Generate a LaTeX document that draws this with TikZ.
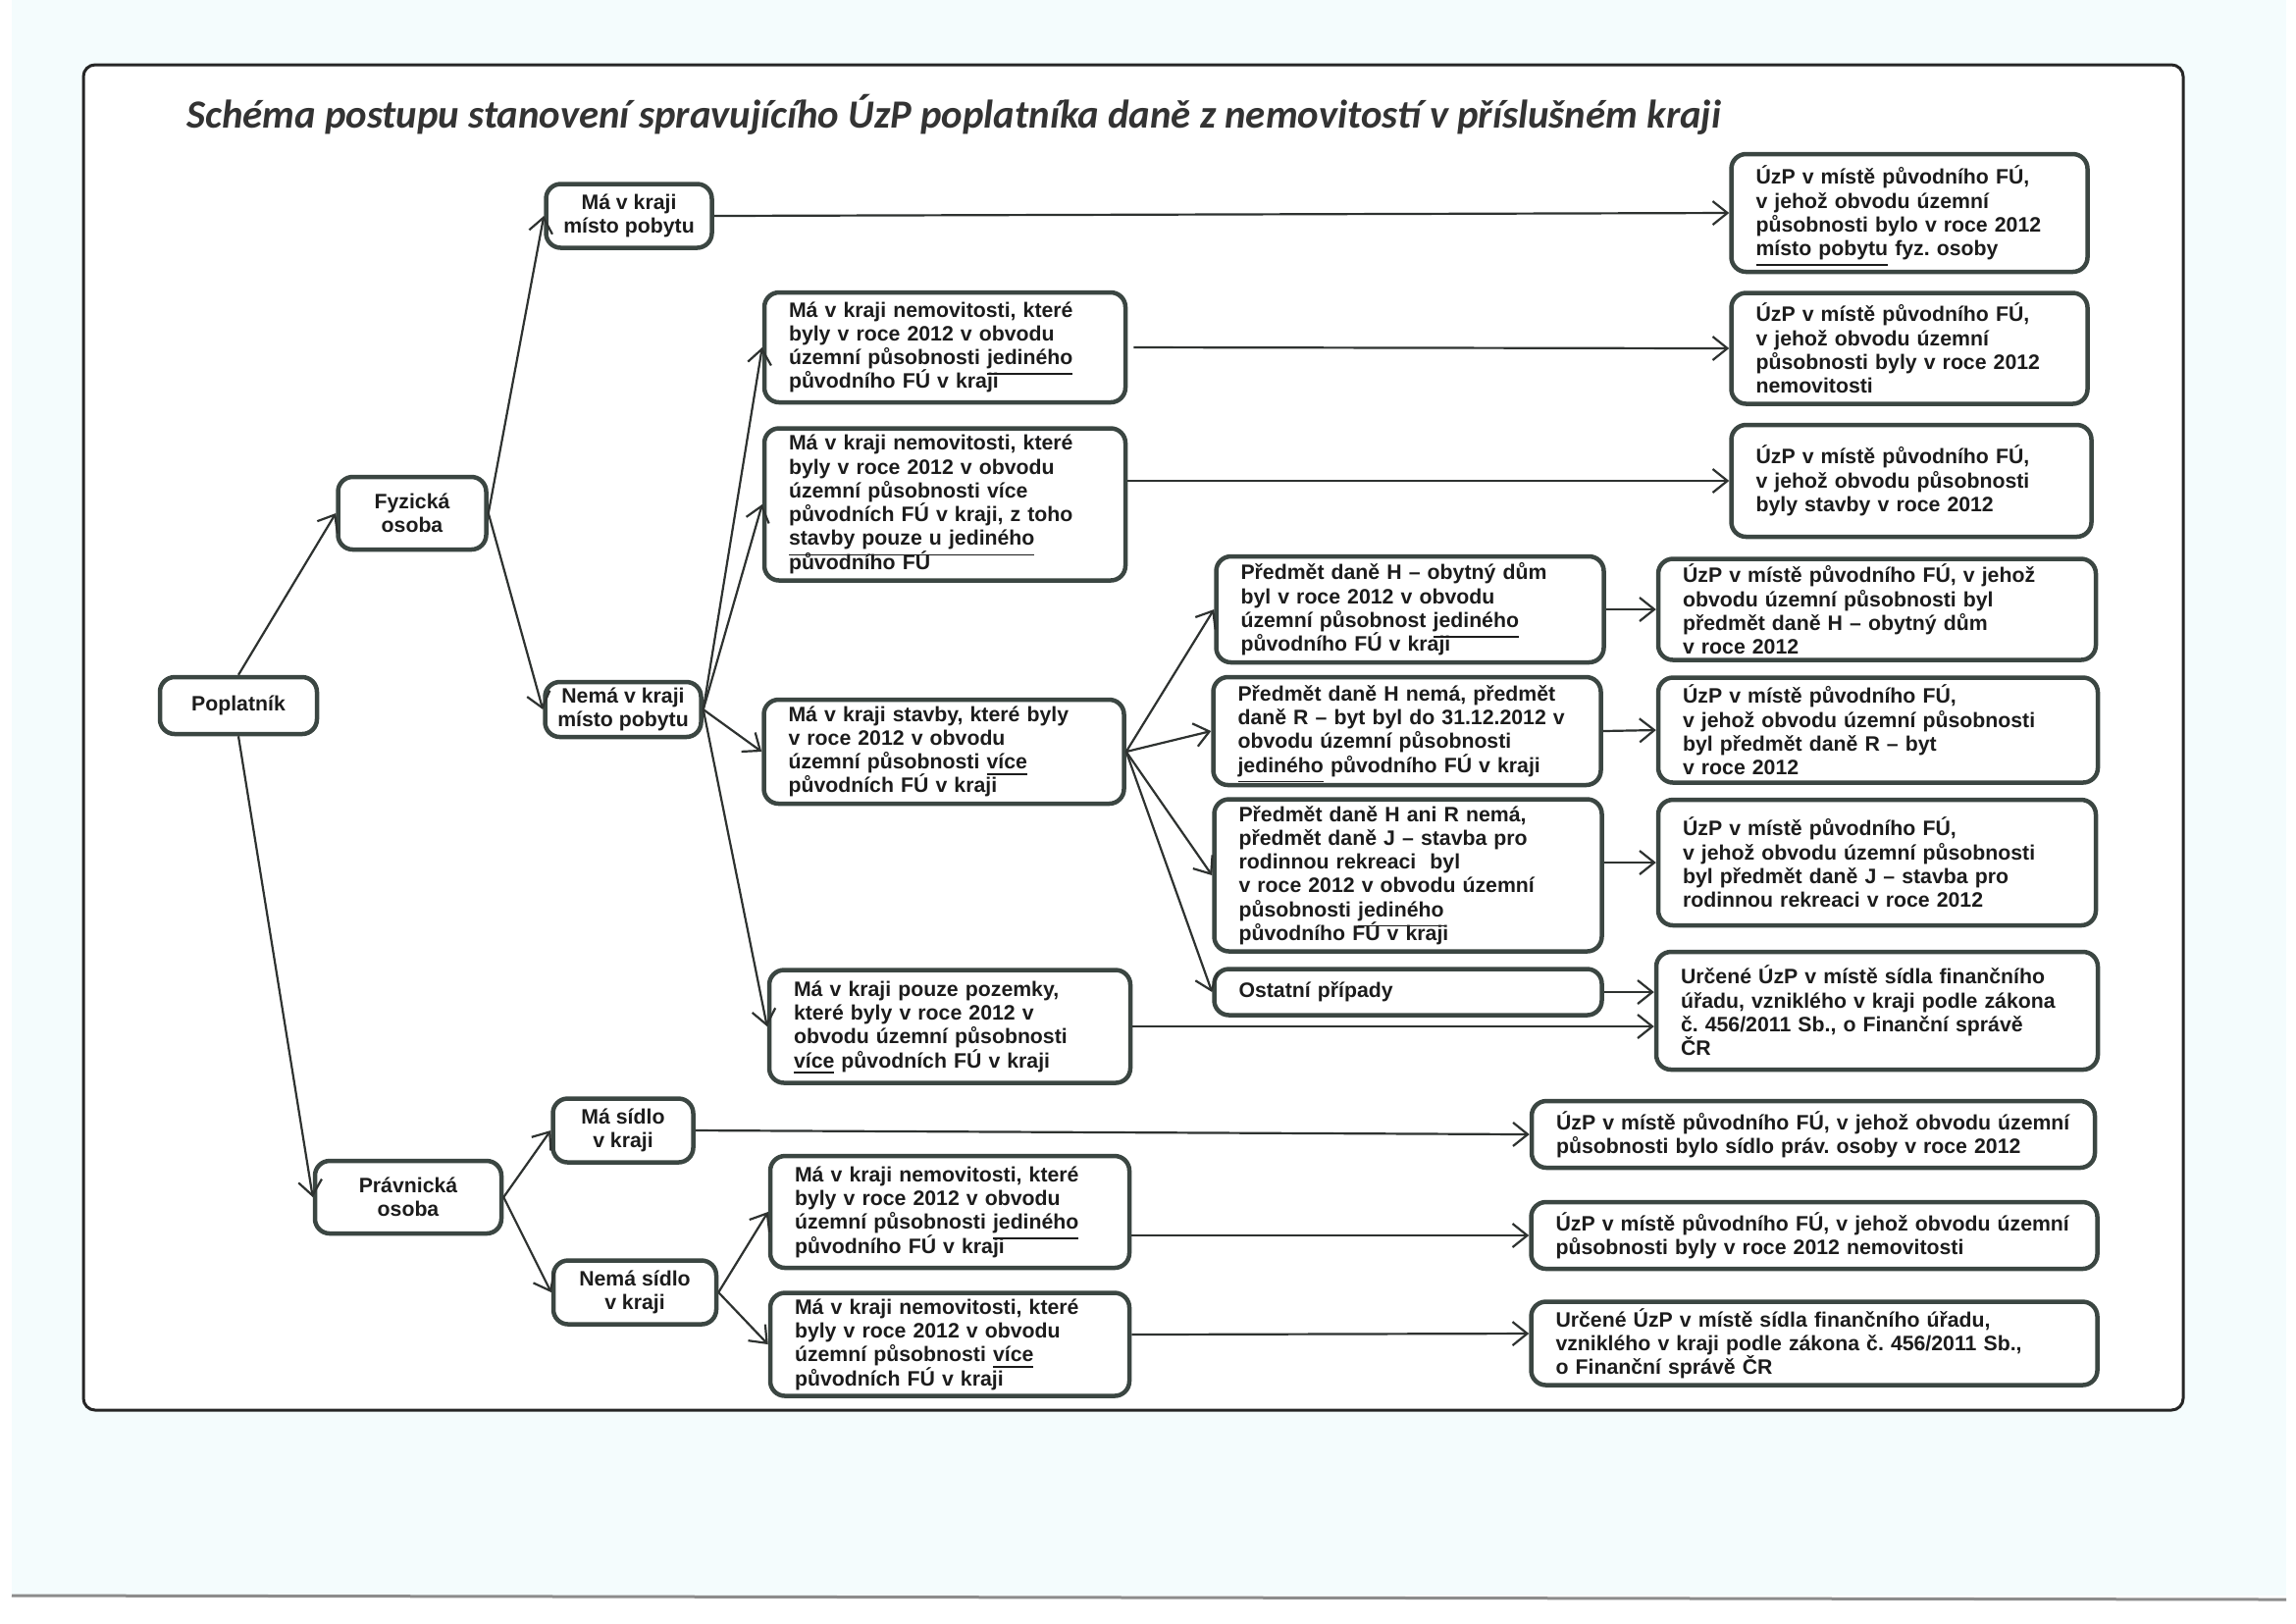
\documentclass[tikz,border=0pt]{standalone}
\usepackage{fontspec}
\setmainfont{Liberation Sans}
\newfontfamily\titlefont{Carlito}
\usetikzlibrary{arrows.meta}

\definecolor{boxline}{HTML}{3B4642}
\definecolor{lineclr}{HTML}{2E3230}
\definecolor{textclr}{HTML}{1C1C1C}
\definecolor{titleclr}{HTML}{333333}
\definecolor{pagebg}{HTML}{F4FCFD}

\frenchspacing
\newcommand{\boxfont}{\bfseries\fontsize{6.05}{6.9}\selectfont}
\newcommand{\ul}[1]{\smash{\underline{#1}}}

\begin{document}
\begin{tikzpicture}[x=0.1mm, y=-0.1mm,
    box/.style={draw=boxline, line width=0.45mm, rounded corners=1.5mm, fill=white, text=textclr, font=\boxfont},
    cbox/.style={box, align=center, inner sep=0pt},
    lbox/.style={box, align=left, inner xsep=2.5mm, inner ysep=0pt},
    conn/.style={draw=lineclr, line width=0.22mm, -{Straight Barb[length=1.5mm, width=2.4mm]}}]

    \useasboundingbox (0,0) rectangle (2340,1654);

    % Draw the page and the frame
    \fill[white] (0,0) rectangle (2340,1654);
    \fill[pagebg] (12,0) rectangle (2330,1626);
    \draw[black!45, line width=0.3mm] (12,1626) -- (2330,1630);
    \draw[black!85, line width=0.3mm, fill=white, rounded corners=1.2mm] (85,66) rectangle (2225,1437);

    % Draw the title
    \node[anchor=west, text=titleclr, font=\titlefont\bfseries\itshape\fontsize{11.6}{13}\selectfont] (title) at (178,117)
        {Schéma postupu stanovení spravujícího ÚzP poplatníka daně z nemovitostí v příslušném kraji};

    % Draw the taxpayer and the persons
    \node[cbox, minimum width=16mm, minimum height=5.8mm] (poplatnik) at (243,719) {Poplatník};
    \node[cbox, minimum width=15.1mm, minimum height=7.4mm] (fyzicka) at (420,523) {Fyzická\\osoba};
    \node[cbox, minimum width=19mm, minimum height=7.4mm] (pravnicka) at (416,1220) {Právnická\\osoba};

    % Draw the natural person branch
    \node[cbox, minimum width=16.9mm, minimum height=6.5mm] (mapobyt) at (641,220) {Má v kraji\\místo pobytu};
    \node[cbox, minimum width=15.9mm, minimum height=5.6mm] (nemapobyt) at (635,723) {Nemá v kraji\\místo pobytu};

    \node[lbox, text width=31.8mm, minimum height=11.2mm] (nemjed) at (963,354)
        {Má v kraji nemovitosti, které\\byly v roce 2012 v obvodu\\územní působnosti \ul{jediného}\\původního FÚ v kraji};
    \node[lbox, text width=31.8mm, minimum height=15.5mm] (nemvice) at (963,514)
        {Má v kraji nemovitosti, které\\byly v roce 2012 v obvodu\\územní působnosti více\\původních FÚ v kraji, z toho\\\ul{stavby pouze u jediného}\\původního FÚ};
    \node[lbox, text width=31.7mm, minimum height=10.6mm] (stavby) at (962,766)
        {Má v kraji stavby, které byly\\v roce 2012 v obvodu\\územní působnosti \ul{více}\\původních FÚ v kraji};
    \node[lbox, text width=31.8mm, minimum height=11.5mm] (pozemky) at (968,1046)
        {Má v kraji pouze pozemky,\\které byly v roce 2012 v\\obvodu územní působnosti\\\ul{více} původních FÚ v kraji};

    % Draw the tax subjects
    \node[lbox, text width=34.5mm, minimum height=10.8mm] (predH) at (1437,621)
        {Předmět daně H – obytný dům\\byl v roce 2012 v obvodu\\územní působnost \ul{jediného}\\původního FÚ v kraji};
    \node[lbox, text width=34.5mm, minimum height=11mm] (predR) at (1434,745)
        {Předmět daně H nemá, předmět\\daně R – byt byl do 31.12.2012 v\\obvodu územní působnosti\\\ul{jediného} původního FÚ v kraji};
    \node[lbox, text width=34.5mm, minimum height=15.5mm] (predJ) at (1435,892)
        {Předmět daně H ani R nemá,\\předmět daně J – stavba pro\\rodinnou rekreaci~ byl\\v roce 2012 v obvodu územní\\působnosti \ul{jediného}\\původního FÚ v kraji};
    \node[lbox, text width=34.5mm, minimum height=4.7mm] (ostatni) at (1435,1011) {Ostatní případy};

    % Draw the results
    \node[lbox, text width=31.3mm, minimum height=12mm] (uzpPobyt) at (1946,217)
        {ÚzP v místě původního FÚ,\\v jehož obvodu územní\\působnosti bylo v roce 2012\\\ul{místo pobytu} fyz. osoby};
    \node[lbox, text width=31.3mm, minimum height=11.3mm] (uzpNem) at (1946,355)
        {ÚzP v místě původního FÚ,\\v jehož obvodu územní\\působnosti byly v roce 2012\\nemovitosti};
    \node[lbox, text width=31.7mm, minimum height=11.4mm] (uzpStavby) at (1948,490)
        {ÚzP v místě původního FÚ,\\v jehož obvodu působnosti\\byly stavby v roce 2012};
    \node[lbox, text width=39.6mm, minimum height=10.3mm] (uzpH) at (1913,621)
        {ÚzP v místě původního FÚ, v jehož\\obvodu územní působnosti byl\\předmět daně H – obytný dům\\v roce 2012};
    \node[lbox, text width=39.8mm, minimum height=10.7mm] (uzpR) at (1914,744)
        {ÚzP v místě původního FÚ,\\v jehož obvodu územní působnosti\\byl předmět daně R – byt\\v roce 2012};
    \node[lbox, text width=39.6mm, minimum height=12.8mm] (uzpJ) at (1913,879)
        {ÚzP v místě původního FÚ,\\v jehož obvodu územní působnosti\\byl předmět daně J – stavba pro\\rodinnou rekreaci v roce 2012};
    \node[lbox, text width=40mm, minimum height=12mm] (urceneFO) at (1913,1030)
        {Určené ÚzP v místě sídla finančního\\úřadu, vzniklého v kraji podle zákona\\č. 456/2011 Sb., o Finanční správě\\ČR};

    % Draw the legal person branch
    \node[cbox, minimum width=14.3mm, minimum height=6.5mm] (masidlo) at (635,1152) {Má sídlo\\v kraji};
    \node[cbox, minimum width=16.6mm, minimum height=6.5mm] (nemasidlo) at (647,1317) {Nemá sídlo\\v kraji};
    \node[lbox, text width=31.6mm, minimum height=11.4mm] (poJed) at (968,1235)
        {Má v kraji nemovitosti, které\\byly v roce 2012 v obvodu\\územní působnosti \ul{jediného}\\původního FÚ v kraji};
    \node[lbox, text width=31.6mm, minimum height=10.5mm] (poVice) at (968,1370)
        {Má v kraji nemovitosti, které\\byly v roce 2012 v obvodu\\územní působnosti \ul{více}\\původních FÚ v kraji};
    \node[lbox, text width=52.4mm, minimum height=6.8mm] (uzpSidlo) at (1848,1156)
        {ÚzP v místě původního FÚ, v jehož obvodu územní\\působnosti bylo sídlo práv. osoby v roce 2012};
    \node[lbox, text width=52.7mm, minimum height=6.8mm] (uzpPoNem) at (1849,1259)
        {ÚzP v místě původního FÚ, v jehož obvodu územní\\působnosti byly v roce 2012 nemovitosti};
    \node[lbox, text width=52.7mm, minimum height=8.5mm] (urcenePO) at (1849,1369)
        {Určené ÚzP v místě sídla finančního úřadu,\\vzniklého v kraji podle zákona č. 456/2011 Sb.,\\o Finanční správě ČR};

    % Draw connections
    \draw[conn] (poplatnik.north) -- (fyzicka.west);
    \draw[conn] (poplatnik.south) -- (pravnicka.west);
    \draw[conn] (fyzicka.east) -- (mapobyt.west);
    \draw[conn] (fyzicka.east) -- (nemapobyt.west);
    \draw[conn] (mapobyt.east) -- (uzpPobyt.west);
    \draw[conn] (nemapobyt.east) -- (nemjed.west);
    \draw[conn] (nemapobyt.east) -- (nemvice.west);
    \draw[conn] (nemapobyt.east) -- (stavby.west);
    \draw[conn] (nemapobyt.east) -- (pozemky.west);
    \draw[conn, shorten <=0.6mm] (nemjed.east) -- (uzpNem.west);
    \draw[conn] (nemvice.east |- uzpStavby.west) -- (uzpStavby.west);
    \draw[conn] (stavby.east) -- (predH.west);
    \draw[conn] (stavby.east) -- (predR.west);
    \draw[conn] (stavby.east) -- (predJ.west);
    \draw[conn] (stavby.east) -- (ostatni.west);
    \draw[conn] (predH.east) -- (uzpH.west);
    \draw[conn] (predR.east) -- (uzpR.west);
    \draw[conn] (predJ.east |- uzpJ.west) -- (uzpJ.west);
    \draw[conn] (ostatni.east) -- (ostatni.east -| urceneFO.west);
    \draw[conn] (pozemky.east) -- (pozemky.east -| urceneFO.west);
    \draw[conn] (pravnicka.east) -- (masidlo.west);
    \draw[conn] (pravnicka.east) -- (nemasidlo.west);
    \draw[conn] (masidlo.east) -- (uzpSidlo.west);
    \draw[conn] (nemasidlo.east) -- (poJed.west);
    \draw[conn] (nemasidlo.east) -- (poVice.west);
    \draw[conn] (poJed.east |- uzpPoNem.west) -- (uzpPoNem.west);
    \draw[conn] ([yshift=1mm]poVice.east) -- ([yshift=1mm]urcenePO.west);

\end{tikzpicture}
\end{document}
